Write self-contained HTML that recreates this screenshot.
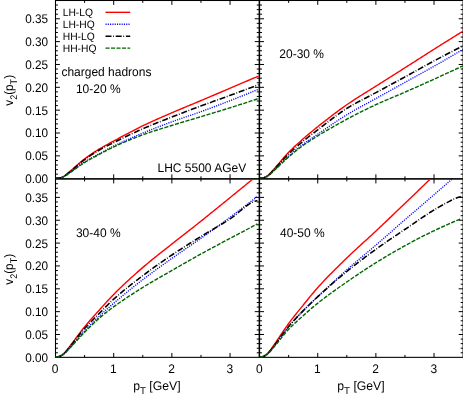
<!DOCTYPE html>
<html><head><meta charset="utf-8"><title>v2(pT) LHC 5500 AGeV</title>
<style>html,body{margin:0;padding:0;background:#fff;overflow:hidden}svg{display:block;text-rendering:geometricPrecision;will-change:transform}</style></head>
<body>
<svg width="463" height="397" viewBox="0 0 463 397">
<rect width="463" height="397" fill="#fff"/>
<defs>
<clipPath id="c0"><rect x="55.50" y="0.49" width="203.65" height="178.98"/></clipPath>
<clipPath id="c1"><rect x="259.60" y="0.49" width="203.50" height="178.98"/></clipPath>
<clipPath id="c2"><rect x="55.50" y="179.05" width="203.65" height="179.05"/></clipPath>
<clipPath id="c3"><rect x="259.60" y="179.05" width="203.50" height="179.05"/></clipPath>
</defs>
<g stroke="#000" fill="none" stroke-width="1">
<rect x="55.50" y="0.49" width="203.65" height="178.23" stroke-width="1.08"/>
<path d="M84.59 178.72v-2.4M84.59 0.49v2.4M113.69 178.72v-4.4M113.69 0.49v4.4M142.78 178.72v-2.4M142.78 0.49v2.4M171.87 178.72v-4.4M171.87 0.49v4.4M200.96 178.72v-2.4M200.96 0.49v2.4M230.06 178.72v-4.4M230.06 0.49v4.4M55.50 174.15h2.4M259.15 174.15h-2.4M55.50 169.58h2.4M259.15 169.58h-2.4M55.50 165.01h2.4M259.15 165.01h-2.4M55.50 160.44h2.4M259.15 160.44h-2.4M55.50 155.87h4.4M259.15 155.87h-4.4M55.50 151.30h2.4M259.15 151.30h-2.4M55.50 146.73h2.4M259.15 146.73h-2.4M55.50 142.16h2.4M259.15 142.16h-2.4M55.50 137.59h2.4M259.15 137.59h-2.4M55.50 133.02h4.4M259.15 133.02h-4.4M55.50 128.45h2.4M259.15 128.45h-2.4M55.50 123.88h2.4M259.15 123.88h-2.4M55.50 119.31h2.4M259.15 119.31h-2.4M55.50 114.74h2.4M259.15 114.74h-2.4M55.50 110.17h4.4M259.15 110.17h-4.4M55.50 105.60h2.4M259.15 105.60h-2.4M55.50 101.03h2.4M259.15 101.03h-2.4M55.50 96.46h2.4M259.15 96.46h-2.4M55.50 91.89h2.4M259.15 91.89h-2.4M55.50 87.32h4.4M259.15 87.32h-4.4M55.50 82.75h2.4M259.15 82.75h-2.4M55.50 78.18h2.4M259.15 78.18h-2.4M55.50 73.61h2.4M259.15 73.61h-2.4M55.50 69.04h2.4M259.15 69.04h-2.4M55.50 64.47h4.4M259.15 64.47h-4.4M55.50 59.90h2.4M259.15 59.90h-2.4M55.50 55.33h2.4M259.15 55.33h-2.4M55.50 50.76h2.4M259.15 50.76h-2.4M55.50 46.19h2.4M259.15 46.19h-2.4M55.50 41.62h4.4M259.15 41.62h-4.4M55.50 37.05h2.4M259.15 37.05h-2.4M55.50 32.48h2.4M259.15 32.48h-2.4M55.50 27.91h2.4M259.15 27.91h-2.4M55.50 23.34h2.4M259.15 23.34h-2.4M55.50 18.77h4.4M259.15 18.77h-4.4M55.50 14.20h2.4M259.15 14.20h-2.4M55.50 9.63h2.4M259.15 9.63h-2.4M55.50 5.06h2.4M259.15 5.06h-2.4"/>
</g>
<g clip-path="url(#c0)" fill="none" stroke-width="1.4" stroke-linejoin="round">
<path d="M55.50 177.99 L56.95 177.99 L58.40 177.99 L59.85 177.82 L61.30 177.44 L62.75 176.84 L64.20 176.00 L65.65 175.01 L67.10 173.85 L68.55 172.60 L70.00 171.36 L71.46 170.15 L72.91 168.91 L74.36 167.64 L75.81 166.36 L77.26 165.07 L78.71 163.80 L80.16 162.54 L81.61 161.32 L83.06 160.14 L84.51 159.01 L85.96 157.93 L87.41 156.88 L88.86 155.84 L90.31 154.83 L91.76 153.85 L93.21 152.88 L94.66 151.93 L96.11 151.01 L97.56 150.09 L99.01 149.20 L100.47 148.33 L101.92 147.48 L103.37 146.65 L104.82 145.83 L106.27 145.03 L107.72 144.25 L109.17 143.46 L110.62 142.68 L112.07 141.91 L113.52 141.13 L114.97 140.34 L116.42 139.56 L117.87 138.77 L119.32 137.99 L120.77 137.20 L122.22 136.42 L123.67 135.64 L125.12 134.87 L126.57 134.09 L128.02 133.32 L129.47 132.56 L130.93 131.80 L132.38 131.04 L133.83 130.29 L135.28 129.55 L136.73 128.81 L138.18 128.08 L139.63 127.36 L141.08 126.64 L142.53 125.94 L143.98 125.24 L145.43 124.55 L146.88 123.87 L148.33 123.19 L149.78 122.52 L151.23 121.86 L152.68 121.20 L154.13 120.55 L155.58 119.90 L157.03 119.25 L158.48 118.61 L159.94 117.98 L161.39 117.34 L162.84 116.71 L164.29 116.08 L165.74 115.45 L167.19 114.82 L168.64 114.19 L170.09 113.56 L171.54 112.94 L172.99 112.31 L174.44 111.69 L175.89 111.07 L177.34 110.45 L178.79 109.84 L180.24 109.23 L181.69 108.62 L183.14 108.02 L184.59 107.41 L186.04 106.81 L187.49 106.21 L188.94 105.61 L190.40 105.00 L191.85 104.40 L193.30 103.80 L194.75 103.20 L196.20 102.59 L197.65 101.99 L199.10 101.38 L200.55 100.77 L202.00 100.15 L203.45 99.54 L204.90 98.93 L206.35 98.31 L207.80 97.69 L209.25 97.08 L210.70 96.46 L212.15 95.84 L213.60 95.23 L215.05 94.61 L216.50 93.99 L217.95 93.37 L219.41 92.75 L220.86 92.13 L222.31 91.51 L223.76 90.90 L225.21 90.28 L226.66 89.66 L228.11 89.04 L229.56 88.42 L231.01 87.80 L232.46 87.18 L233.91 86.56 L235.36 85.94 L236.81 85.33 L238.26 84.71 L239.71 84.09 L241.16 83.47 L242.61 82.85 L244.06 82.23 L245.51 81.61 L246.96 80.99 L248.41 80.37 L249.87 79.75 L251.32 79.13 L252.77 78.51 L254.22 77.89 L255.67 77.27 L257.12 76.65 L258.57 76.03" stroke="#ff0000"/>
<path d="M55.50 177.99 L56.95 177.99 L58.40 177.99 L59.85 177.88 L61.30 177.63 L62.75 177.13 L64.20 176.39 L65.65 175.55 L67.10 174.56 L68.55 173.50 L70.00 172.46 L71.46 171.43 L72.91 170.37 L74.36 169.29 L75.81 168.19 L77.26 167.10 L78.71 166.01 L80.16 164.95 L81.61 163.91 L83.06 162.92 L84.51 161.97 L85.96 161.08 L87.41 160.22 L88.86 159.38 L90.31 158.57 L91.76 157.78 L93.21 157.00 L94.66 156.23 L96.11 155.46 L97.56 154.68 L99.01 153.90 L100.47 153.11 L101.92 152.31 L103.37 151.51 L104.82 150.72 L106.27 149.93 L107.72 149.14 L109.17 148.37 L110.62 147.61 L112.07 146.87 L113.52 146.14 L114.97 145.44 L116.42 144.74 L117.87 144.05 L119.32 143.36 L120.77 142.69 L122.22 142.02 L123.67 141.36 L125.12 140.71 L126.57 140.06 L128.02 139.42 L129.47 138.78 L130.93 138.15 L132.38 137.52 L133.83 136.90 L135.28 136.28 L136.73 135.66 L138.18 135.05 L139.63 134.44 L141.08 133.84 L142.53 133.23 L143.98 132.63 L145.43 132.04 L146.88 131.44 L148.33 130.85 L149.78 130.27 L151.23 129.69 L152.68 129.11 L154.13 128.54 L155.58 127.97 L157.03 127.40 L158.48 126.84 L159.94 126.28 L161.39 125.73 L162.84 125.17 L164.29 124.62 L165.74 124.08 L167.19 123.53 L168.64 122.99 L170.09 122.45 L171.54 121.92 L172.99 121.39 L174.44 120.86 L175.89 120.34 L177.34 119.83 L178.79 119.32 L180.24 118.82 L181.69 118.32 L183.14 117.82 L184.59 117.32 L186.04 116.83 L187.49 116.34 L188.94 115.84 L190.40 115.35 L191.85 114.85 L193.30 114.35 L194.75 113.85 L196.20 113.35 L197.65 112.84 L199.10 112.32 L200.55 111.80 L202.00 111.28 L203.45 110.75 L204.90 110.22 L206.35 109.68 L207.80 109.15 L209.25 108.61 L210.70 108.07 L212.15 107.53 L213.60 106.98 L215.05 106.43 L216.50 105.89 L217.95 105.34 L219.41 104.78 L220.86 104.23 L222.31 103.67 L223.76 103.12 L225.21 102.56 L226.66 102.00 L228.11 101.44 L229.56 100.88 L231.01 100.31 L232.46 99.75 L233.91 99.18 L235.36 98.61 L236.81 98.04 L238.26 97.47 L239.71 96.89 L241.16 96.32 L242.61 95.74 L244.06 95.16 L245.51 94.58 L246.96 93.99 L248.41 93.41 L249.87 92.82 L251.32 92.24 L252.77 91.65 L254.22 91.05 L255.67 90.46 L257.12 89.87 L258.57 89.27" stroke="#0000ff" stroke-dasharray="1.1 1.2"/>
<path d="M55.50 177.99 L56.95 177.99 L58.40 177.99 L59.85 177.83 L61.30 177.49 L62.75 176.91 L64.20 176.09 L65.65 175.14 L67.10 174.01 L68.55 172.81 L70.00 171.62 L71.46 170.45 L72.91 169.25 L74.36 168.02 L75.81 166.78 L77.26 165.54 L78.71 164.31 L80.16 163.10 L81.61 161.92 L83.06 160.78 L84.51 159.70 L85.96 158.65 L87.41 157.63 L88.86 156.64 L90.31 155.66 L91.76 154.71 L93.21 153.77 L94.66 152.86 L96.11 151.97 L97.56 151.10 L99.01 150.25 L100.47 149.42 L101.92 148.61 L103.37 147.83 L104.82 147.06 L106.27 146.31 L107.72 145.57 L109.17 144.84 L110.62 144.12 L112.07 143.40 L113.52 142.67 L114.97 141.95 L116.42 141.23 L117.87 140.51 L119.32 139.79 L120.77 139.08 L122.22 138.37 L123.67 137.66 L125.12 136.96 L126.57 136.26 L128.02 135.56 L129.47 134.87 L130.93 134.18 L132.38 133.50 L133.83 132.83 L135.28 132.16 L136.73 131.49 L138.18 130.83 L139.63 130.18 L141.08 129.54 L142.53 128.90 L143.98 128.27 L145.43 127.64 L146.88 127.02 L148.33 126.41 L149.78 125.80 L151.23 125.20 L152.68 124.61 L154.13 124.02 L155.58 123.43 L157.03 122.85 L158.48 122.27 L159.94 121.69 L161.39 121.11 L162.84 120.54 L164.29 119.97 L165.74 119.40 L167.19 118.83 L168.64 118.26 L170.09 117.70 L171.54 117.13 L172.99 116.56 L174.44 115.99 L175.89 115.43 L177.34 114.87 L178.79 114.31 L180.24 113.75 L181.69 113.19 L183.14 112.64 L184.59 112.08 L186.04 111.53 L187.49 110.98 L188.94 110.43 L190.40 109.88 L191.85 109.34 L193.30 108.79 L194.75 108.25 L196.20 107.71 L197.65 107.17 L199.10 106.63 L200.55 106.09 L202.00 105.56 L203.45 105.02 L204.90 104.49 L206.35 103.97 L207.80 103.44 L209.25 102.92 L210.70 102.40 L212.15 101.88 L213.60 101.36 L215.05 100.84 L216.50 100.32 L217.95 99.80 L219.41 99.29 L220.86 98.77 L222.31 98.25 L223.76 97.72 L225.21 97.20 L226.66 96.67 L228.11 96.14 L229.56 95.61 L231.01 95.08 L232.46 94.54 L233.91 94.00 L235.36 93.46 L236.81 92.92 L238.26 92.38 L239.71 91.84 L241.16 91.30 L242.61 90.75 L244.06 90.20 L245.51 89.66 L246.96 89.11 L248.41 88.56 L249.87 88.01 L251.32 87.46 L252.77 86.91 L254.22 86.35 L255.67 85.80 L257.12 85.24 L258.57 84.68" stroke="#000000" stroke-dasharray="6 1.6 0.8 1.8" stroke-width="1.58"/>
<path d="M55.50 177.99 L56.95 177.99 L58.40 177.99 L59.85 177.89 L61.30 177.67 L62.75 177.19 L64.20 176.47 L65.65 175.66 L67.10 174.70 L68.55 173.69 L70.00 172.68 L71.46 171.69 L72.91 170.67 L74.36 169.63 L75.81 168.58 L77.26 167.53 L78.71 166.49 L80.16 165.46 L81.61 164.46 L83.06 163.49 L84.51 162.57 L85.96 161.68 L87.41 160.82 L88.86 159.99 L90.31 159.17 L91.76 158.38 L93.21 157.59 L94.66 156.81 L96.11 156.04 L97.56 155.27 L99.01 154.49 L100.47 153.72 L101.92 152.94 L103.37 152.16 L104.82 151.39 L106.27 150.63 L107.72 149.88 L109.17 149.13 L110.62 148.41 L112.07 147.70 L113.52 147.01 L114.97 146.34 L116.42 145.67 L117.87 145.01 L119.32 144.36 L120.77 143.71 L122.22 143.07 L123.67 142.44 L125.12 141.82 L126.57 141.20 L128.02 140.59 L129.47 139.99 L130.93 139.40 L132.38 138.81 L133.83 138.23 L135.28 137.66 L136.73 137.09 L138.18 136.54 L139.63 135.99 L141.08 135.44 L142.53 134.91 L143.98 134.39 L145.43 133.87 L146.88 133.36 L148.33 132.87 L149.78 132.38 L151.23 131.89 L152.68 131.41 L154.13 130.94 L155.58 130.48 L157.03 130.01 L158.48 129.56 L159.94 129.10 L161.39 128.65 L162.84 128.20 L164.29 127.75 L165.74 127.30 L167.19 126.86 L168.64 126.41 L170.09 125.96 L171.54 125.51 L172.99 125.06 L174.44 124.61 L175.89 124.17 L177.34 123.73 L178.79 123.29 L180.24 122.85 L181.69 122.42 L183.14 121.99 L184.59 121.55 L186.04 121.12 L187.49 120.69 L188.94 120.26 L190.40 119.83 L191.85 119.40 L193.30 118.97 L194.75 118.54 L196.20 118.11 L197.65 117.68 L199.10 117.24 L200.55 116.80 L202.00 116.36 L203.45 115.92 L204.90 115.49 L206.35 115.05 L207.80 114.61 L209.25 114.17 L210.70 113.73 L212.15 113.29 L213.60 112.85 L215.05 112.40 L216.50 111.96 L217.95 111.52 L219.41 111.07 L220.86 110.63 L222.31 110.18 L223.76 109.73 L225.21 109.28 L226.66 108.83 L228.11 108.38 L229.56 107.92 L231.01 107.47 L232.46 107.01 L233.91 106.55 L235.36 106.09 L236.81 105.63 L238.26 105.16 L239.71 104.70 L241.16 104.23 L242.61 103.77 L244.06 103.30 L245.51 102.83 L246.96 102.36 L248.41 101.88 L249.87 101.41 L251.32 100.94 L252.77 100.46 L254.22 99.98 L255.67 99.51 L257.12 99.03 L258.57 98.55" stroke="#006400" stroke-dasharray="4.1 1.4"/>
</g>
<g stroke="#000" fill="none" stroke-width="1">
<rect x="259.60" y="0.49" width="203.50" height="178.23" stroke-width="1.08"/>
<path d="M288.67 178.72v-2.4M288.67 0.49v2.4M317.74 178.72v-4.4M317.74 0.49v4.4M346.81 178.72v-2.4M346.81 0.49v2.4M375.89 178.72v-4.4M375.89 0.49v4.4M404.96 178.72v-2.4M404.96 0.49v2.4M434.03 178.72v-4.4M434.03 0.49v4.4M259.60 174.15h2.4M463.10 174.15h-2.4M259.60 169.58h2.4M463.10 169.58h-2.4M259.60 165.01h2.4M463.10 165.01h-2.4M259.60 160.44h2.4M463.10 160.44h-2.4M259.60 155.87h4.4M463.10 155.87h-4.4M259.60 151.30h2.4M463.10 151.30h-2.4M259.60 146.73h2.4M463.10 146.73h-2.4M259.60 142.16h2.4M463.10 142.16h-2.4M259.60 137.59h2.4M463.10 137.59h-2.4M259.60 133.02h4.4M463.10 133.02h-4.4M259.60 128.45h2.4M463.10 128.45h-2.4M259.60 123.88h2.4M463.10 123.88h-2.4M259.60 119.31h2.4M463.10 119.31h-2.4M259.60 114.74h2.4M463.10 114.74h-2.4M259.60 110.17h4.4M463.10 110.17h-4.4M259.60 105.60h2.4M463.10 105.60h-2.4M259.60 101.03h2.4M463.10 101.03h-2.4M259.60 96.46h2.4M463.10 96.46h-2.4M259.60 91.89h2.4M463.10 91.89h-2.4M259.60 87.32h4.4M463.10 87.32h-4.4M259.60 82.75h2.4M463.10 82.75h-2.4M259.60 78.18h2.4M463.10 78.18h-2.4M259.60 73.61h2.4M463.10 73.61h-2.4M259.60 69.04h2.4M463.10 69.04h-2.4M259.60 64.47h4.4M463.10 64.47h-4.4M259.60 59.90h2.4M463.10 59.90h-2.4M259.60 55.33h2.4M463.10 55.33h-2.4M259.60 50.76h2.4M463.10 50.76h-2.4M259.60 46.19h2.4M463.10 46.19h-2.4M259.60 41.62h4.4M463.10 41.62h-4.4M259.60 37.05h2.4M463.10 37.05h-2.4M259.60 32.48h2.4M463.10 32.48h-2.4M259.60 27.91h2.4M463.10 27.91h-2.4M259.60 23.34h2.4M463.10 23.34h-2.4M259.60 18.77h4.4M463.10 18.77h-4.4M259.60 14.20h2.4M463.10 14.20h-2.4M259.60 9.63h2.4M463.10 9.63h-2.4M259.60 5.06h2.4M463.10 5.06h-2.4"/>
</g>
<g clip-path="url(#c1)" fill="none" stroke-width="1.4" stroke-linejoin="round">
<path d="M259.60 177.99 L261.05 177.99 L262.51 177.99 L263.96 177.66 L265.41 177.00 L266.87 176.17 L268.32 175.09 L269.78 173.77 L271.23 172.20 L272.68 170.52 L274.14 168.86 L275.59 167.24 L277.04 165.56 L278.50 163.86 L279.95 162.15 L281.40 160.43 L282.86 158.72 L284.31 157.03 L285.76 155.39 L287.22 153.80 L288.67 152.28 L290.12 150.81 L291.58 149.39 L293.03 148.00 L294.49 146.63 L295.94 145.30 L297.39 143.98 L298.85 142.68 L300.30 141.40 L301.75 140.12 L303.21 138.84 L304.66 137.58 L306.11 136.32 L307.57 135.08 L309.02 133.86 L310.48 132.64 L311.93 131.44 L313.38 130.25 L314.84 129.07 L316.29 127.89 L317.74 126.73 L319.20 125.57 L320.65 124.42 L322.10 123.27 L323.56 122.12 L325.01 120.98 L326.46 119.85 L327.92 118.71 L329.37 117.59 L330.83 116.47 L332.28 115.36 L333.73 114.26 L335.19 113.16 L336.64 112.07 L338.09 111.00 L339.55 109.93 L341.00 108.87 L342.45 107.82 L343.91 106.79 L345.36 105.76 L346.81 104.75 L348.27 103.75 L349.72 102.77 L351.18 101.80 L352.63 100.84 L354.08 99.89 L355.54 98.95 L356.99 98.02 L358.44 97.10 L359.90 96.18 L361.35 95.27 L362.80 94.36 L364.26 93.46 L365.71 92.55 L367.16 91.65 L368.62 90.75 L370.07 89.85 L371.53 88.94 L372.98 88.03 L374.43 87.12 L375.89 86.20 L377.34 85.27 L378.79 84.35 L380.25 83.43 L381.70 82.51 L383.15 81.58 L384.61 80.66 L386.06 79.74 L387.51 78.82 L388.97 77.90 L390.42 76.98 L391.88 76.06 L393.33 75.15 L394.78 74.23 L396.24 73.31 L397.69 72.39 L399.14 71.47 L400.60 70.54 L402.05 69.62 L403.50 68.70 L404.96 67.78 L406.41 66.85 L407.86 65.93 L409.32 65.00 L410.77 64.08 L412.23 63.15 L413.68 62.22 L415.13 61.29 L416.59 60.37 L418.04 59.44 L419.49 58.51 L420.95 57.58 L422.40 56.65 L423.85 55.73 L425.31 54.80 L426.76 53.88 L428.21 52.95 L429.67 52.03 L431.12 51.11 L432.58 50.19 L434.03 49.27 L435.48 48.35 L436.94 47.44 L438.39 46.52 L439.84 45.61 L441.30 44.69 L442.75 43.78 L444.20 42.87 L445.66 41.96 L447.11 41.05 L448.56 40.14 L450.02 39.23 L451.47 38.32 L452.93 37.41 L454.38 36.50 L455.83 35.60 L457.29 34.69 L458.74 33.79 L460.19 32.89 L461.65 31.98 L463.10 31.08" stroke="#ff0000"/>
<path d="M259.60 177.99 L261.05 177.99 L262.51 177.99 L263.96 177.75 L265.41 177.26 L266.87 176.56 L268.32 175.62 L269.78 174.49 L271.23 173.15 L272.68 171.72 L274.14 170.32 L275.59 168.94 L277.04 167.52 L278.50 166.09 L279.95 164.64 L281.40 163.19 L282.86 161.74 L284.31 160.31 L285.76 158.91 L287.22 157.54 L288.67 156.21 L290.12 154.91 L291.58 153.63 L293.03 152.36 L294.49 151.11 L295.94 149.88 L297.39 148.68 L298.85 147.49 L300.30 146.33 L301.75 145.20 L303.21 144.10 L304.66 143.03 L306.11 141.99 L307.57 140.98 L309.02 140.00 L310.48 139.03 L311.93 138.07 L313.38 137.12 L314.84 136.16 L316.29 135.20 L317.74 134.23 L319.20 133.24 L320.65 132.25 L322.10 131.26 L323.56 130.26 L325.01 129.25 L326.46 128.25 L327.92 127.25 L329.37 126.24 L330.83 125.25 L332.28 124.25 L333.73 123.26 L335.19 122.27 L336.64 121.29 L338.09 120.33 L339.55 119.37 L341.00 118.42 L342.45 117.48 L343.91 116.56 L345.36 115.65 L346.81 114.76 L348.27 113.88 L349.72 113.02 L351.18 112.17 L352.63 111.33 L354.08 110.50 L355.54 109.69 L356.99 108.88 L358.44 108.07 L359.90 107.27 L361.35 106.48 L362.80 105.69 L364.26 104.91 L365.71 104.12 L367.16 103.34 L368.62 102.55 L370.07 101.77 L371.53 100.98 L372.98 100.18 L374.43 99.39 L375.89 98.58 L377.34 97.77 L378.79 96.96 L380.25 96.15 L381.70 95.34 L383.15 94.53 L384.61 93.73 L386.06 92.92 L387.51 92.11 L388.97 91.30 L390.42 90.49 L391.88 89.68 L393.33 88.87 L394.78 88.06 L396.24 87.25 L397.69 86.44 L399.14 85.64 L400.60 84.83 L402.05 84.02 L403.50 83.21 L404.96 82.40 L406.41 81.60 L407.86 80.79 L409.32 79.99 L410.77 79.19 L412.23 78.39 L413.68 77.58 L415.13 76.79 L416.59 75.99 L418.04 75.18 L419.49 74.38 L420.95 73.58 L422.40 72.78 L423.85 71.97 L425.31 71.17 L426.76 70.36 L428.21 69.55 L429.67 68.73 L431.12 67.92 L432.58 67.10 L434.03 66.27 L435.48 65.44 L436.94 64.61 L438.39 63.78 L439.84 62.95 L441.30 62.11 L442.75 61.27 L444.20 60.43 L445.66 59.59 L447.11 58.74 L448.56 57.90 L450.02 57.05 L451.47 56.20 L452.93 55.34 L454.38 54.49 L455.83 53.63 L457.29 52.77 L458.74 51.91 L460.19 51.05 L461.65 50.18 L463.10 49.32" stroke="#0000ff" stroke-dasharray="1.1 1.2"/>
<path d="M259.60 177.99 L261.05 177.99 L262.51 177.99 L263.96 177.70 L265.41 177.11 L266.87 176.33 L268.32 175.31 L269.78 174.07 L271.23 172.60 L272.68 171.02 L274.14 169.47 L275.59 167.95 L277.04 166.38 L278.50 164.79 L279.95 163.19 L281.40 161.58 L282.86 159.98 L284.31 158.40 L285.76 156.86 L287.22 155.36 L288.67 153.92 L290.12 152.54 L291.58 151.18 L293.03 149.85 L294.49 148.55 L295.94 147.27 L297.39 146.01 L298.85 144.77 L300.30 143.54 L301.75 142.33 L303.21 141.13 L304.66 139.94 L306.11 138.77 L307.57 137.62 L309.02 136.49 L310.48 135.36 L311.93 134.25 L313.38 133.14 L314.84 132.04 L316.29 130.94 L317.74 129.84 L319.20 128.73 L320.65 127.62 L322.10 126.49 L323.56 125.37 L325.01 124.24 L326.46 123.11 L327.92 121.99 L329.37 120.86 L330.83 119.75 L332.28 118.64 L333.73 117.54 L335.19 116.45 L336.64 115.38 L338.09 114.32 L339.55 113.28 L341.00 112.25 L342.45 111.26 L343.91 110.28 L345.36 109.33 L346.81 108.41 L348.27 107.51 L349.72 106.63 L351.18 105.78 L352.63 104.94 L354.08 104.13 L355.54 103.32 L356.99 102.53 L358.44 101.75 L359.90 100.98 L361.35 100.22 L362.80 99.46 L364.26 98.71 L365.71 97.96 L367.16 97.21 L368.62 96.47 L370.07 95.71 L371.53 94.96 L372.98 94.19 L374.43 93.42 L375.89 92.64 L377.34 91.85 L378.79 91.07 L380.25 90.28 L381.70 89.50 L383.15 88.71 L384.61 87.93 L386.06 87.14 L387.51 86.36 L388.97 85.58 L390.42 84.79 L391.88 84.01 L393.33 83.22 L394.78 82.44 L396.24 81.65 L397.69 80.87 L399.14 80.08 L400.60 79.29 L402.05 78.50 L403.50 77.71 L404.96 76.92 L406.41 76.12 L407.86 75.33 L409.32 74.53 L410.77 73.72 L412.23 72.92 L413.68 72.11 L415.13 71.30 L416.59 70.50 L418.04 69.69 L419.49 68.88 L420.95 68.07 L422.40 67.27 L423.85 66.46 L425.31 65.66 L426.76 64.86 L428.21 64.07 L429.67 63.27 L431.12 62.49 L432.58 61.70 L434.03 60.92 L435.48 60.15 L436.94 59.38 L438.39 58.60 L439.84 57.84 L441.30 57.07 L442.75 56.31 L444.20 55.54 L445.66 54.78 L447.11 54.03 L448.56 53.27 L450.02 52.52 L451.47 51.77 L452.93 51.02 L454.38 50.27 L455.83 49.53 L457.29 48.79 L458.74 48.05 L460.19 47.31 L461.65 46.58 L463.10 45.84" stroke="#000000" stroke-dasharray="6 1.6 0.8 1.8" stroke-width="1.58"/>
<path d="M259.60 177.99 L261.05 177.99 L262.51 177.99 L263.96 177.77 L265.41 177.30 L266.87 176.63 L268.32 175.71 L269.78 174.61 L271.23 173.32 L272.68 171.93 L274.14 170.57 L275.59 169.23 L277.04 167.86 L278.50 166.47 L279.95 165.06 L281.40 163.65 L282.86 162.25 L284.31 160.86 L285.76 159.50 L287.22 158.17 L288.67 156.89 L290.12 155.65 L291.58 154.42 L293.03 153.21 L294.49 152.02 L295.94 150.85 L297.39 149.70 L298.85 148.57 L300.30 147.47 L301.75 146.39 L303.21 145.33 L304.66 144.30 L306.11 143.30 L307.57 142.32 L309.02 141.36 L310.48 140.42 L311.93 139.49 L313.38 138.57 L314.84 137.66 L316.29 136.77 L317.74 135.87 L319.20 134.98 L320.65 134.10 L322.10 133.23 L323.56 132.36 L325.01 131.49 L326.46 130.64 L327.92 129.79 L329.37 128.94 L330.83 128.10 L332.28 127.27 L333.73 126.44 L335.19 125.62 L336.64 124.80 L338.09 123.99 L339.55 123.19 L341.00 122.39 L342.45 121.59 L343.91 120.80 L345.36 120.02 L346.81 119.24 L348.27 118.46 L349.72 117.69 L351.18 116.92 L352.63 116.16 L354.08 115.41 L355.54 114.65 L356.99 113.90 L358.44 113.16 L359.90 112.42 L361.35 111.69 L362.80 110.96 L364.26 110.24 L365.71 109.52 L367.16 108.81 L368.62 108.10 L370.07 107.40 L371.53 106.71 L372.98 106.02 L374.43 105.34 L375.89 104.66 L377.34 103.99 L378.79 103.33 L380.25 102.68 L381.70 102.04 L383.15 101.40 L384.61 100.78 L386.06 100.15 L387.51 99.53 L388.97 98.92 L390.42 98.30 L391.88 97.69 L393.33 97.08 L394.78 96.47 L396.24 95.86 L397.69 95.25 L399.14 94.64 L400.60 94.02 L402.05 93.40 L403.50 92.77 L404.96 92.14 L406.41 91.50 L407.86 90.86 L409.32 90.22 L410.77 89.58 L412.23 88.94 L413.68 88.30 L415.13 87.66 L416.59 87.02 L418.04 86.37 L419.49 85.73 L420.95 85.08 L422.40 84.43 L423.85 83.78 L425.31 83.13 L426.76 82.48 L428.21 81.83 L429.67 81.17 L431.12 80.52 L432.58 79.86 L434.03 79.20 L435.48 78.54 L436.94 77.88 L438.39 77.22 L439.84 76.56 L441.30 75.89 L442.75 75.23 L444.20 74.56 L445.66 73.89 L447.11 73.22 L448.56 72.55 L450.02 71.88 L451.47 71.20 L452.93 70.53 L454.38 69.85 L455.83 69.17 L457.29 68.50 L458.74 67.82 L460.19 67.13 L461.65 66.45 L463.10 65.77" stroke="#006400" stroke-dasharray="4.1 1.4"/>
</g>
<g stroke="#000" fill="none" stroke-width="1">
<rect x="55.50" y="179.05" width="203.65" height="178.30" stroke-width="1.08"/>
<path d="M84.59 357.35v-2.4M84.59 179.05v2.4M113.69 357.35v-4.4M113.69 179.05v4.4M142.78 357.35v-2.4M142.78 179.05v2.4M171.87 357.35v-4.4M171.87 179.05v4.4M200.96 357.35v-2.4M200.96 179.05v2.4M230.06 357.35v-4.4M230.06 179.05v4.4M55.50 352.78h2.4M259.15 352.78h-2.4M55.50 348.21h2.4M259.15 348.21h-2.4M55.50 343.64h2.4M259.15 343.64h-2.4M55.50 339.07h2.4M259.15 339.07h-2.4M55.50 334.50h4.4M259.15 334.50h-4.4M55.50 329.93h2.4M259.15 329.93h-2.4M55.50 325.36h2.4M259.15 325.36h-2.4M55.50 320.79h2.4M259.15 320.79h-2.4M55.50 316.22h2.4M259.15 316.22h-2.4M55.50 311.65h4.4M259.15 311.65h-4.4M55.50 307.08h2.4M259.15 307.08h-2.4M55.50 302.51h2.4M259.15 302.51h-2.4M55.50 297.94h2.4M259.15 297.94h-2.4M55.50 293.37h2.4M259.15 293.37h-2.4M55.50 288.80h4.4M259.15 288.80h-4.4M55.50 284.23h2.4M259.15 284.23h-2.4M55.50 279.66h2.4M259.15 279.66h-2.4M55.50 275.09h2.4M259.15 275.09h-2.4M55.50 270.52h2.4M259.15 270.52h-2.4M55.50 265.95h4.4M259.15 265.95h-4.4M55.50 261.38h2.4M259.15 261.38h-2.4M55.50 256.81h2.4M259.15 256.81h-2.4M55.50 252.24h2.4M259.15 252.24h-2.4M55.50 247.67h2.4M259.15 247.67h-2.4M55.50 243.10h4.4M259.15 243.10h-4.4M55.50 238.53h2.4M259.15 238.53h-2.4M55.50 233.96h2.4M259.15 233.96h-2.4M55.50 229.39h2.4M259.15 229.39h-2.4M55.50 224.82h2.4M259.15 224.82h-2.4M55.50 220.25h4.4M259.15 220.25h-4.4M55.50 215.68h2.4M259.15 215.68h-2.4M55.50 211.11h2.4M259.15 211.11h-2.4M55.50 206.54h2.4M259.15 206.54h-2.4M55.50 201.97h2.4M259.15 201.97h-2.4M55.50 197.40h4.4M259.15 197.40h-4.4M55.50 192.83h2.4M259.15 192.83h-2.4M55.50 188.26h2.4M259.15 188.26h-2.4M55.50 183.69h2.4M259.15 183.69h-2.4"/>
</g>
<g clip-path="url(#c2)" fill="none" stroke-width="1.4" stroke-linejoin="round">
<path d="M55.50 356.71 L56.94 356.71 L58.38 356.71 L59.83 356.27 L61.27 355.40 L62.71 354.40 L64.15 353.15 L65.60 351.64 L67.04 349.86 L68.48 347.95 L69.92 346.05 L71.36 344.20 L72.81 342.31 L74.25 340.39 L75.69 338.45 L77.13 336.50 L78.57 334.55 L80.02 332.63 L81.46 330.73 L82.90 328.88 L84.34 327.08 L85.79 325.34 L87.23 323.63 L88.67 321.96 L90.11 320.31 L91.55 318.68 L93.00 317.07 L94.44 315.48 L95.88 313.88 L97.32 312.29 L98.77 310.69 L100.21 309.09 L101.65 307.48 L103.09 305.86 L104.53 304.25 L105.98 302.65 L107.42 301.06 L108.86 299.49 L110.30 297.94 L111.74 296.42 L113.19 294.93 L114.63 293.47 L116.07 292.03 L117.51 290.60 L118.96 289.19 L120.40 287.79 L121.84 286.40 L123.28 285.03 L124.72 283.66 L126.17 282.31 L127.61 280.97 L129.05 279.65 L130.49 278.33 L131.94 277.02 L133.38 275.72 L134.82 274.43 L136.26 273.15 L137.70 271.88 L139.15 270.61 L140.59 269.35 L142.03 268.10 L143.47 266.86 L144.91 265.63 L146.36 264.42 L147.80 263.21 L149.24 262.02 L150.68 260.84 L152.13 259.66 L153.57 258.50 L155.01 257.34 L156.45 256.19 L157.89 255.04 L159.34 253.90 L160.78 252.76 L162.22 251.63 L163.66 250.49 L165.11 249.36 L166.55 248.22 L167.99 247.09 L169.43 245.95 L170.87 244.81 L172.32 243.66 L173.76 242.52 L175.20 241.38 L176.64 240.24 L178.08 239.11 L179.53 237.98 L180.97 236.85 L182.41 235.72 L183.85 234.59 L185.30 233.47 L186.74 232.34 L188.18 231.22 L189.62 230.09 L191.06 228.97 L192.51 227.84 L193.95 226.71 L195.39 225.57 L196.83 224.44 L198.28 223.30 L199.72 222.16 L201.16 221.01 L202.60 219.86 L204.04 218.70 L205.49 217.55 L206.93 216.39 L208.37 215.23 L209.81 214.06 L211.25 212.90 L212.70 211.73 L214.14 210.57 L215.58 209.40 L217.02 208.23 L218.47 207.06 L219.91 205.88 L221.35 204.71 L222.79 203.54 L224.23 202.36 L225.68 201.19 L227.12 200.02 L228.56 198.85 L230.00 197.67 L231.45 196.50 L232.89 195.33 L234.33 194.15 L235.77 192.98 L237.21 191.80 L238.66 190.63 L240.10 189.45 L241.54 188.28 L242.98 187.10 L244.42 185.92 L245.87 184.74 L247.31 183.56 L248.75 182.38 L250.19 181.20 L251.64 180.02 L253.08 178.84 L254.52 177.66 L255.96 176.48 L257.40 175.30" stroke="#ff0000"/>
<path d="M55.50 356.71 L56.94 356.71 L58.38 356.71 L59.83 356.37 L61.27 355.67 L62.71 354.82 L64.15 353.71 L65.60 352.41 L67.04 350.88 L68.48 349.24 L69.92 347.62 L71.36 346.03 L72.81 344.41 L74.25 342.77 L75.69 341.11 L77.13 339.45 L78.57 337.79 L80.02 336.13 L81.46 334.50 L82.90 332.90 L84.34 331.34 L85.79 329.81 L87.23 328.30 L88.67 326.81 L90.11 325.33 L91.55 323.87 L93.00 322.43 L94.44 321.00 L95.88 319.59 L97.32 318.19 L98.77 316.81 L100.21 315.44 L101.65 314.08 L103.09 312.74 L104.53 311.41 L105.98 310.10 L107.42 308.80 L108.86 307.51 L110.30 306.23 L111.74 304.97 L113.19 303.72 L114.63 302.48 L116.07 301.24 L117.51 300.02 L118.96 298.80 L120.40 297.59 L121.84 296.39 L123.28 295.19 L124.72 294.00 L126.17 292.82 L127.61 291.64 L129.05 290.48 L130.49 289.31 L131.94 288.16 L133.38 287.01 L134.82 285.87 L136.26 284.73 L137.70 283.60 L139.15 282.47 L140.59 281.35 L142.03 280.24 L143.47 279.13 L144.91 278.03 L146.36 276.93 L147.80 275.85 L149.24 274.77 L150.68 273.69 L152.13 272.63 L153.57 271.57 L155.01 270.51 L156.45 269.46 L157.89 268.41 L159.34 267.37 L160.78 266.33 L162.22 265.29 L163.66 264.26 L165.11 263.23 L166.55 262.20 L167.99 261.17 L169.43 260.14 L170.87 259.12 L172.32 258.09 L173.76 257.07 L175.20 256.06 L176.64 255.05 L178.08 254.05 L179.53 253.05 L180.97 252.06 L182.41 251.06 L183.85 250.07 L185.30 249.08 L186.74 248.10 L188.18 247.11 L189.62 246.12 L191.06 245.13 L192.51 244.14 L193.95 243.15 L195.39 242.15 L196.83 241.15 L198.28 240.15 L199.72 239.13 L201.16 238.12 L202.60 237.10 L204.04 236.08 L205.49 235.05 L206.93 234.03 L208.37 233.00 L209.81 231.97 L211.25 230.94 L212.70 229.91 L214.14 228.88 L215.58 227.84 L217.02 226.80 L218.47 225.76 L219.91 224.72 L221.35 223.67 L222.79 222.62 L224.23 221.57 L225.68 220.51 L227.12 219.45 L228.56 218.39 L230.00 217.32 L231.45 216.25 L232.89 215.18 L234.33 214.10 L235.77 213.02 L237.21 211.94 L238.66 210.85 L240.10 209.77 L241.54 208.68 L242.98 207.58 L244.42 206.48 L245.87 205.38 L247.31 204.28 L248.75 203.18 L250.19 202.07 L251.64 200.95 L253.08 199.84 L254.52 198.72 L255.96 197.60 L257.40 196.48" stroke="#0000ff" stroke-dasharray="1.1 1.2"/>
<path d="M55.50 356.71 L56.94 356.71 L58.38 356.71 L59.83 356.31 L61.27 355.51 L62.71 354.58 L64.15 353.38 L65.60 351.96 L67.04 350.28 L68.48 348.49 L69.92 346.70 L71.36 344.96 L72.81 343.17 L74.25 341.35 L75.69 339.51 L77.13 337.67 L78.57 335.83 L80.02 334.02 L81.46 332.24 L82.90 330.51 L84.34 328.84 L85.79 327.24 L87.23 325.68 L88.67 324.16 L90.11 322.66 L91.55 321.20 L93.00 319.75 L94.44 318.31 L95.88 316.87 L97.32 315.44 L98.77 313.99 L100.21 312.53 L101.65 311.06 L103.09 309.58 L104.53 308.11 L105.98 306.64 L107.42 305.18 L108.86 303.75 L110.30 302.34 L111.74 300.96 L113.19 299.63 L114.63 298.33 L116.07 297.05 L117.51 295.79 L118.96 294.55 L120.40 293.32 L121.84 292.11 L123.28 290.91 L124.72 289.73 L126.17 288.56 L127.61 287.40 L129.05 286.25 L130.49 285.11 L131.94 283.98 L133.38 282.86 L134.82 281.74 L136.26 280.64 L137.70 279.53 L139.15 278.44 L140.59 277.34 L142.03 276.25 L143.47 275.16 L144.91 274.08 L146.36 273.00 L147.80 271.94 L149.24 270.87 L150.68 269.82 L152.13 268.77 L153.57 267.73 L155.01 266.70 L156.45 265.67 L157.89 264.65 L159.34 263.63 L160.78 262.62 L162.22 261.62 L163.66 260.62 L165.11 259.63 L166.55 258.64 L167.99 257.65 L169.43 256.67 L170.87 255.70 L172.32 254.73 L173.76 253.77 L175.20 252.81 L176.64 251.86 L178.08 250.92 L179.53 249.98 L180.97 249.05 L182.41 248.12 L183.85 247.20 L185.30 246.28 L186.74 245.36 L188.18 244.45 L189.62 243.54 L191.06 242.64 L192.51 241.74 L193.95 240.84 L195.39 239.94 L196.83 239.04 L198.28 238.14 L199.72 237.25 L201.16 236.35 L202.60 235.46 L204.04 234.59 L205.49 233.72 L206.93 232.85 L208.37 232.00 L209.81 231.14 L211.25 230.29 L212.70 229.45 L214.14 228.60 L215.58 227.75 L217.02 226.90 L218.47 226.05 L219.91 225.19 L221.35 224.32 L222.79 223.45 L224.23 222.57 L225.68 221.67 L227.12 220.77 L228.56 219.85 L230.00 218.91 L231.45 217.93 L232.89 216.88 L234.33 215.77 L235.77 214.62 L237.21 213.43 L238.66 212.22 L240.10 211.00 L241.54 209.79 L242.98 208.60 L244.42 207.44 L245.87 206.33 L247.31 205.28 L248.75 204.30 L250.19 203.41 L251.64 202.61 L253.08 201.93 L254.52 201.37 L255.96 200.94 L257.40 200.60" stroke="#000000" stroke-dasharray="6 1.6 0.8 1.8" stroke-width="1.58"/>
<path d="M55.50 356.71 L56.94 356.71 L58.38 356.71 L59.83 356.39 L61.27 355.75 L62.71 354.93 L64.15 353.86 L65.60 352.61 L67.04 351.15 L68.48 349.59 L69.92 348.04 L71.36 346.52 L72.81 344.97 L74.25 343.40 L75.69 341.81 L77.13 340.22 L78.57 338.63 L80.02 337.05 L81.46 335.49 L82.90 333.96 L84.34 332.47 L85.79 331.01 L87.23 329.55 L88.67 328.11 L90.11 326.68 L91.55 325.28 L93.00 323.89 L94.44 322.52 L95.88 321.18 L97.32 319.88 L98.77 318.60 L100.21 317.36 L101.65 316.14 L103.09 314.95 L104.53 313.78 L105.98 312.64 L107.42 311.51 L108.86 310.40 L110.30 309.31 L111.74 308.23 L113.19 307.17 L114.63 306.12 L116.07 305.08 L117.51 304.06 L118.96 303.04 L120.40 302.03 L121.84 301.04 L123.28 300.05 L124.72 299.07 L126.17 298.10 L127.61 297.14 L129.05 296.19 L130.49 295.24 L131.94 294.30 L133.38 293.37 L134.82 292.44 L136.26 291.52 L137.70 290.61 L139.15 289.70 L140.59 288.80 L142.03 287.89 L143.47 287.00 L144.91 286.11 L146.36 285.23 L147.80 284.36 L149.24 283.50 L150.68 282.65 L152.13 281.80 L153.57 280.96 L155.01 280.12 L156.45 279.28 L157.89 278.45 L159.34 277.63 L160.78 276.80 L162.22 275.98 L163.66 275.16 L165.11 274.34 L166.55 273.52 L167.99 272.70 L169.43 271.87 L170.87 271.05 L172.32 270.22 L173.76 269.39 L175.20 268.56 L176.64 267.73 L178.08 266.91 L179.53 266.08 L180.97 265.25 L182.41 264.43 L183.85 263.60 L185.30 262.78 L186.74 261.96 L188.18 261.14 L189.62 260.32 L191.06 259.51 L192.51 258.69 L193.95 257.88 L195.39 257.07 L196.83 256.27 L198.28 255.47 L199.72 254.67 L201.16 253.87 L202.60 253.08 L204.04 252.28 L205.49 251.50 L206.93 250.71 L208.37 249.93 L209.81 249.15 L211.25 248.37 L212.70 247.59 L214.14 246.82 L215.58 246.05 L217.02 245.28 L218.47 244.51 L219.91 243.74 L221.35 242.97 L222.79 242.20 L224.23 241.44 L225.68 240.67 L227.12 239.91 L228.56 239.14 L230.00 238.38 L231.45 237.61 L232.89 236.85 L234.33 236.08 L235.77 235.32 L237.21 234.56 L238.66 233.80 L240.10 233.04 L241.54 232.28 L242.98 231.52 L244.42 230.76 L245.87 230.01 L247.31 229.25 L248.75 228.50 L250.19 227.74 L251.64 226.99 L253.08 226.24 L254.52 225.49 L255.96 224.74 L257.40 223.99" stroke="#006400" stroke-dasharray="4.1 1.4"/>
</g>
<g stroke="#000" fill="none" stroke-width="1">
<rect x="259.60" y="179.05" width="203.50" height="178.30" stroke-width="1.08"/>
<path d="M288.67 357.35v-2.4M288.67 179.05v2.4M317.74 357.35v-4.4M317.74 179.05v4.4M346.81 357.35v-2.4M346.81 179.05v2.4M375.89 357.35v-4.4M375.89 179.05v4.4M404.96 357.35v-2.4M404.96 179.05v2.4M434.03 357.35v-4.4M434.03 179.05v4.4M259.60 352.78h2.4M463.10 352.78h-2.4M259.60 348.21h2.4M463.10 348.21h-2.4M259.60 343.64h2.4M463.10 343.64h-2.4M259.60 339.07h2.4M463.10 339.07h-2.4M259.60 334.50h4.4M463.10 334.50h-4.4M259.60 329.93h2.4M463.10 329.93h-2.4M259.60 325.36h2.4M463.10 325.36h-2.4M259.60 320.79h2.4M463.10 320.79h-2.4M259.60 316.22h2.4M463.10 316.22h-2.4M259.60 311.65h4.4M463.10 311.65h-4.4M259.60 307.08h2.4M463.10 307.08h-2.4M259.60 302.51h2.4M463.10 302.51h-2.4M259.60 297.94h2.4M463.10 297.94h-2.4M259.60 293.37h2.4M463.10 293.37h-2.4M259.60 288.80h4.4M463.10 288.80h-4.4M259.60 284.23h2.4M463.10 284.23h-2.4M259.60 279.66h2.4M463.10 279.66h-2.4M259.60 275.09h2.4M463.10 275.09h-2.4M259.60 270.52h2.4M463.10 270.52h-2.4M259.60 265.95h4.4M463.10 265.95h-4.4M259.60 261.38h2.4M463.10 261.38h-2.4M259.60 256.81h2.4M463.10 256.81h-2.4M259.60 252.24h2.4M463.10 252.24h-2.4M259.60 247.67h2.4M463.10 247.67h-2.4M259.60 243.10h4.4M463.10 243.10h-4.4M259.60 238.53h2.4M463.10 238.53h-2.4M259.60 233.96h2.4M463.10 233.96h-2.4M259.60 229.39h2.4M463.10 229.39h-2.4M259.60 224.82h2.4M463.10 224.82h-2.4M259.60 220.25h4.4M463.10 220.25h-4.4M259.60 215.68h2.4M463.10 215.68h-2.4M259.60 211.11h2.4M463.10 211.11h-2.4M259.60 206.54h2.4M463.10 206.54h-2.4M259.60 201.97h2.4M463.10 201.97h-2.4M259.60 197.40h4.4M463.10 197.40h-4.4M259.60 192.83h2.4M463.10 192.83h-2.4M259.60 188.26h2.4M463.10 188.26h-2.4M259.60 183.69h2.4M463.10 183.69h-2.4"/>
</g>
<g clip-path="url(#c3)" fill="none" stroke-width="1.4" stroke-linejoin="round">
<path d="M259.60 356.71 L261.04 356.71 L262.48 356.71 L263.92 356.20 L265.36 355.18 L266.81 354.08 L268.25 352.71 L269.69 351.04 L271.13 349.06 L272.57 346.94 L274.01 344.84 L275.45 342.78 L276.89 340.68 L278.33 338.55 L279.78 336.39 L281.22 334.23 L282.66 332.07 L284.10 329.94 L285.54 327.83 L286.98 325.78 L288.42 323.78 L289.86 321.84 L291.30 319.95 L292.75 318.09 L294.19 316.25 L295.63 314.45 L297.07 312.66 L298.51 310.88 L299.95 309.11 L301.39 307.34 L302.83 305.57 L304.27 303.80 L305.72 302.01 L307.16 300.23 L308.60 298.45 L310.04 296.68 L311.48 294.93 L312.92 293.20 L314.36 291.49 L315.80 289.81 L317.24 288.17 L318.69 286.57 L320.13 284.98 L321.57 283.41 L323.01 281.87 L324.45 280.33 L325.89 278.82 L327.33 277.31 L328.77 275.83 L330.21 274.35 L331.66 272.89 L333.10 271.43 L334.54 269.99 L335.98 268.55 L337.42 267.13 L338.86 265.71 L340.30 264.29 L341.74 262.88 L343.18 261.48 L344.63 260.08 L346.07 258.68 L347.51 257.28 L348.95 255.90 L350.39 254.53 L351.83 253.17 L353.27 251.82 L354.71 250.48 L356.15 249.15 L357.60 247.83 L359.04 246.51 L360.48 245.20 L361.92 243.88 L363.36 242.58 L364.80 241.27 L366.24 239.96 L367.68 238.65 L369.12 237.33 L370.57 236.01 L372.01 234.69 L373.45 233.35 L374.89 232.01 L376.33 230.66 L377.77 229.31 L379.21 227.95 L380.65 226.59 L382.09 225.23 L383.54 223.86 L384.98 222.49 L386.42 221.12 L387.86 219.75 L389.30 218.37 L390.74 216.99 L392.18 215.62 L393.62 214.24 L395.06 212.86 L396.51 211.48 L397.95 210.10 L399.39 208.72 L400.83 207.34 L402.27 205.96 L403.71 204.58 L405.15 203.20 L406.59 201.82 L408.03 200.44 L409.48 199.06 L410.92 197.68 L412.36 196.29 L413.80 194.91 L415.24 193.53 L416.68 192.14 L418.12 190.75 L419.56 189.37 L421.00 187.98 L422.45 186.60 L423.89 185.21 L425.33 183.82 L426.77 182.44 L428.21 181.05 L429.65 179.67 L431.09 178.28 L432.53 176.90 L433.97 175.52 L435.42 174.13 L436.86 172.75 L438.30 171.37 L439.74 169.98 L441.18 168.60 L442.62 167.22 L444.06 165.84 L445.50 164.46 L446.94 163.07 L448.39 161.69 L449.83 160.31 L451.27 158.93 L452.71 157.55 L454.15 156.16 L455.59 154.78 L457.03 153.40 L458.47 152.02 L459.91 150.64 L461.36 149.26" stroke="#ff0000"/>
<path d="M259.60 356.71 L261.04 356.71 L262.48 356.71 L263.92 356.27 L265.36 355.38 L266.81 354.38 L268.25 353.11 L269.69 351.59 L271.13 349.79 L272.57 347.87 L274.01 345.95 L275.45 344.08 L276.89 342.16 L278.33 340.21 L279.78 338.23 L281.22 336.25 L282.66 334.28 L284.10 332.33 L285.54 330.43 L286.98 328.58 L288.42 326.80 L289.86 325.09 L291.30 323.43 L292.75 321.80 L294.19 320.21 L295.63 318.64 L297.07 317.10 L298.51 315.58 L299.95 314.08 L301.39 312.60 L302.83 311.12 L304.27 309.65 L305.72 308.21 L307.16 306.79 L308.60 305.39 L310.04 304.00 L311.48 302.63 L312.92 301.26 L314.36 299.90 L315.80 298.54 L317.24 297.18 L318.69 295.81 L320.13 294.45 L321.57 293.09 L323.01 291.73 L324.45 290.37 L325.89 289.02 L327.33 287.66 L328.77 286.32 L330.21 284.97 L331.66 283.63 L333.10 282.29 L334.54 280.96 L335.98 279.63 L337.42 278.31 L338.86 276.99 L340.30 275.68 L341.74 274.37 L343.18 273.07 L344.63 271.78 L346.07 270.50 L347.51 269.22 L348.95 267.96 L350.39 266.70 L351.83 265.45 L353.27 264.22 L354.71 262.99 L356.15 261.76 L357.60 260.54 L359.04 259.33 L360.48 258.12 L361.92 256.91 L363.36 255.70 L364.80 254.49 L366.24 253.28 L367.68 252.07 L369.12 250.86 L370.57 249.65 L372.01 248.43 L373.45 247.20 L374.89 245.97 L376.33 244.73 L377.77 243.48 L379.21 242.24 L380.65 240.98 L382.09 239.73 L383.54 238.47 L384.98 237.21 L386.42 235.95 L387.86 234.69 L389.30 233.43 L390.74 232.16 L392.18 230.90 L393.62 229.64 L395.06 228.37 L396.51 227.11 L397.95 225.85 L399.39 224.59 L400.83 223.33 L402.27 222.08 L403.71 220.83 L405.15 219.58 L406.59 218.33 L408.03 217.09 L409.48 215.85 L410.92 214.61 L412.36 213.38 L413.80 212.15 L415.24 210.91 L416.68 209.68 L418.12 208.45 L419.56 207.22 L421.00 205.99 L422.45 204.76 L423.89 203.52 L425.33 202.29 L426.77 201.05 L428.21 199.82 L429.65 198.58 L431.09 197.34 L432.53 196.09 L433.97 194.84 L435.42 193.59 L436.86 192.34 L438.30 191.08 L439.74 189.83 L441.18 188.57 L442.62 187.32 L444.06 186.06 L445.50 184.80 L446.94 183.53 L448.39 182.27 L449.83 181.01 L451.27 179.74 L452.71 178.47 L454.15 177.20 L455.59 175.93 L457.03 174.66 L458.47 173.39 L459.91 172.12 L461.36 170.84" stroke="#0000ff" stroke-dasharray="1.1 1.2"/>
<path d="M259.60 356.71 L261.04 356.71 L262.48 356.71 L263.92 356.27 L265.36 355.38 L266.81 354.38 L268.25 353.11 L269.69 351.59 L271.13 349.79 L272.57 347.87 L274.01 345.95 L275.45 344.08 L276.89 342.16 L278.33 340.21 L279.78 338.23 L281.22 336.25 L282.66 334.28 L284.10 332.33 L285.54 330.43 L286.98 328.58 L288.42 326.80 L289.86 325.09 L291.30 323.43 L292.75 321.80 L294.19 320.21 L295.63 318.64 L297.07 317.10 L298.51 315.58 L299.95 314.08 L301.39 312.60 L302.83 311.12 L304.27 309.65 L305.72 308.20 L307.16 306.77 L308.60 305.36 L310.04 303.96 L311.48 302.57 L312.92 301.20 L314.36 299.85 L315.80 298.50 L317.24 297.17 L318.69 295.84 L320.13 294.52 L321.57 293.21 L323.01 291.90 L324.45 290.61 L325.89 289.31 L327.33 288.03 L328.77 286.75 L330.21 285.48 L331.66 284.22 L333.10 282.96 L334.54 281.72 L335.98 280.48 L337.42 279.25 L338.86 278.02 L340.30 276.81 L341.74 275.61 L343.18 274.41 L344.63 273.22 L346.07 272.04 L347.51 270.87 L348.95 269.71 L350.39 268.56 L351.83 267.41 L353.27 266.28 L354.71 265.15 L356.15 264.03 L357.60 262.92 L359.04 261.81 L360.48 260.71 L361.92 259.62 L363.36 258.53 L364.80 257.45 L366.24 256.37 L367.68 255.30 L369.12 254.24 L370.57 253.18 L372.01 252.13 L373.45 251.08 L374.89 250.03 L376.33 249.00 L377.77 247.96 L379.21 246.94 L380.65 245.92 L382.09 244.91 L383.54 243.91 L384.98 242.91 L386.42 241.92 L387.86 240.94 L389.30 239.95 L390.74 238.97 L392.18 238.00 L393.62 237.02 L395.06 236.05 L396.51 235.08 L397.95 234.11 L399.39 233.14 L400.83 232.17 L402.27 231.20 L403.71 230.23 L405.15 229.26 L406.59 228.28 L408.03 227.30 L409.48 226.31 L410.92 225.32 L412.36 224.33 L413.80 223.33 L415.24 222.34 L416.68 221.35 L418.12 220.37 L419.56 219.38 L421.00 218.40 L422.45 217.43 L423.89 216.47 L425.33 215.51 L426.77 214.56 L428.21 213.62 L429.65 212.70 L431.09 211.78 L432.53 210.89 L433.97 210.00 L435.42 209.13 L436.86 208.27 L438.30 207.42 L439.74 206.58 L441.18 205.76 L442.62 204.96 L444.06 204.18 L445.50 203.42 L446.94 202.66 L448.39 201.87 L449.83 201.08 L451.27 200.30 L452.71 199.55 L454.15 198.85 L455.59 198.23 L457.03 197.71 L458.47 197.30 L459.91 196.98 L461.36 196.72" stroke="#000000" stroke-dasharray="6 1.6 0.8 1.8" stroke-width="1.58"/>
<path d="M259.60 356.71 L261.04 356.71 L262.48 356.71 L263.92 356.33 L265.36 355.56 L266.81 354.64 L268.25 353.47 L269.69 352.08 L271.13 350.44 L272.57 348.69 L274.01 346.95 L275.45 345.25 L276.89 343.49 L278.33 341.69 L279.78 339.88 L281.22 338.06 L282.66 336.26 L284.10 334.48 L285.54 332.76 L286.98 331.09 L288.42 329.51 L289.86 328.00 L291.30 326.55 L292.75 325.14 L294.19 323.77 L295.63 322.43 L297.07 321.11 L298.51 319.81 L299.95 318.53 L301.39 317.24 L302.83 315.96 L304.27 314.67 L305.72 313.39 L307.16 312.12 L308.60 310.86 L310.04 309.61 L311.48 308.37 L312.92 307.15 L314.36 305.94 L315.80 304.76 L317.24 303.59 L318.69 302.45 L320.13 301.32 L321.57 300.20 L323.01 299.09 L324.45 297.99 L325.89 296.91 L327.33 295.83 L328.77 294.76 L330.21 293.70 L331.66 292.65 L333.10 291.61 L334.54 290.57 L335.98 289.54 L337.42 288.52 L338.86 287.50 L340.30 286.49 L341.74 285.48 L343.18 284.47 L344.63 283.47 L346.07 282.46 L347.51 281.46 L348.95 280.47 L350.39 279.48 L351.83 278.49 L353.27 277.51 L354.71 276.53 L356.15 275.55 L357.60 274.59 L359.04 273.62 L360.48 272.66 L361.92 271.71 L363.36 270.76 L364.80 269.82 L366.24 268.88 L367.68 267.95 L369.12 267.02 L370.57 266.10 L372.01 265.18 L373.45 264.27 L374.89 263.37 L376.33 262.48 L377.77 261.58 L379.21 260.70 L380.65 259.81 L382.09 258.94 L383.54 258.06 L384.98 257.20 L386.42 256.33 L387.86 255.47 L389.30 254.62 L390.74 253.77 L392.18 252.93 L393.62 252.09 L395.06 251.26 L396.51 250.44 L397.95 249.62 L399.39 248.80 L400.83 247.99 L402.27 247.19 L403.71 246.39 L405.15 245.60 L406.59 244.81 L408.03 244.03 L409.48 243.25 L410.92 242.48 L412.36 241.71 L413.80 240.94 L415.24 240.18 L416.68 239.43 L418.12 238.68 L419.56 237.94 L421.00 237.20 L422.45 236.46 L423.89 235.73 L425.33 235.01 L426.77 234.29 L428.21 233.58 L429.65 232.87 L431.09 232.17 L432.53 231.48 L433.97 230.79 L435.42 230.10 L436.86 229.42 L438.30 228.75 L439.74 228.08 L441.18 227.41 L442.62 226.75 L444.06 226.09 L445.50 225.44 L446.94 224.79 L448.39 224.15 L449.83 223.51 L451.27 222.88 L452.71 222.25 L454.15 221.63 L455.59 221.01 L457.03 220.40 L458.47 219.79 L459.91 219.19 L461.36 218.59" stroke="#006400" stroke-dasharray="4.1 1.4"/>
</g>
<g font-family="Liberation Sans, sans-serif" font-size="12" fill="#000">
<text transform="translate(48.10 183.05) scale(0.98 1.04)" text-anchor="end">0.00</text>
<text transform="translate(48.10 160.20) scale(0.98 1.04)" text-anchor="end">0.05</text>
<text transform="translate(48.10 137.35) scale(0.98 1.04)" text-anchor="end">0.10</text>
<text transform="translate(48.10 114.50) scale(0.98 1.04)" text-anchor="end">0.15</text>
<text transform="translate(48.10 91.65) scale(0.98 1.04)" text-anchor="end">0.20</text>
<text transform="translate(48.10 68.80) scale(0.98 1.04)" text-anchor="end">0.25</text>
<text transform="translate(48.10 45.95) scale(0.98 1.04)" text-anchor="end">0.30</text>
<text transform="translate(48.10 23.10) scale(0.98 1.04)" text-anchor="end">0.35</text>
<text transform="translate(48.10 361.80) scale(0.98 1.04)" text-anchor="end">0.00</text>
<text transform="translate(48.10 338.95) scale(0.98 1.04)" text-anchor="end">0.05</text>
<text transform="translate(48.10 316.10) scale(0.98 1.04)" text-anchor="end">0.10</text>
<text transform="translate(48.10 293.25) scale(0.98 1.04)" text-anchor="end">0.15</text>
<text transform="translate(48.10 270.40) scale(0.98 1.04)" text-anchor="end">0.20</text>
<text transform="translate(48.10 247.55) scale(0.98 1.04)" text-anchor="end">0.25</text>
<text transform="translate(48.10 224.70) scale(0.98 1.04)" text-anchor="end">0.30</text>
<text transform="translate(48.10 201.85) scale(0.98 1.04)" text-anchor="end">0.35</text>
<text transform="translate(55.20 373.10) scale(1.0 1.04)" text-anchor="middle">0</text>
<text transform="translate(113.39 373.10) scale(1.0 1.04)" text-anchor="middle">1</text>
<text transform="translate(171.57 373.10) scale(1.0 1.04)" text-anchor="middle">2</text>
<text transform="translate(229.76 373.10) scale(1.0 1.04)" text-anchor="middle">3</text>
<text transform="translate(259.30 373.10) scale(1.0 1.04)" text-anchor="middle">0</text>
<text transform="translate(317.44 373.10) scale(1.0 1.04)" text-anchor="middle">1</text>
<text transform="translate(375.59 373.10) scale(1.0 1.04)" text-anchor="middle">2</text>
<text transform="translate(433.73 373.10) scale(1.0 1.04)" text-anchor="middle">3</text>
<text transform="translate(156.92 390.30) scale(1.02 1.04)" text-anchor="middle">p<tspan font-size="9.5" dy="3.3">T</tspan><tspan dy="-3.3"> [GeV]</tspan></text>
<text transform="translate(360.95 390.30) scale(1.02 1.04)" text-anchor="middle">p<tspan font-size="9.5" dy="3.3">T</tspan><tspan dy="-3.3"> [GeV]</tspan></text>
<text transform="translate(12.80 90.31) rotate(-90) scale(0.975 1.04)" text-anchor="middle">v<tspan font-size="9.3" dy="3.9">2</tspan><tspan dy="-3.9">(p</tspan><tspan font-size="9.3" dy="3.9">T</tspan><tspan dy="-3.9">)</tspan></text>
<text transform="translate(12.80 269.30) rotate(-90) scale(0.975 1.04)" text-anchor="middle">v<tspan font-size="9.3" dy="3.9">2</tspan><tspan dy="-3.9">(p</tspan><tspan font-size="9.3" dy="3.9">T</tspan><tspan dy="-3.9">)</tspan></text>
<text transform="translate(61.40 76.30) scale(1.0 1.04)">charged hadrons</text>
<text transform="translate(75.90 93.40) scale(1.0 1.04)">10-20 %</text>
<text transform="translate(157.50 172.10) scale(1.0 1.04)">LHC 5500 AGeV</text>
<text transform="translate(279.30 58.00) scale(1.0 1.04)">20-30 %</text>
<text transform="translate(75.90 236.80) scale(1.0 1.04)">30-40 %</text>
<text transform="translate(280.00 236.80) scale(1.0 1.04)">40-50 %</text>
<text transform="translate(62.70 16.30) scale(1.0 1.04)" font-size="10.3">LH-LQ</text>
<text transform="translate(62.70 28.15) scale(1.0 1.04)" font-size="10.3">LH-HQ</text>
<text transform="translate(62.70 40.00) scale(1.0 1.04)" font-size="10.3">HH-LQ</text>
<text transform="translate(62.70 51.85) scale(1.0 1.04)" font-size="10.3">HH-HQ</text>
</g>
<g fill="none" stroke-width="1.35">
<line x1="105.5" y1="12.30" x2="130.2" y2="12.30" stroke="#ff0000"/>
<line x1="105.5" y1="24.25" x2="130.2" y2="24.25" stroke="#0000ff" stroke-dasharray="1.1 1.2"/>
<line x1="105.5" y1="36.20" x2="130.2" y2="36.20" stroke="#000000" stroke-dasharray="6 1.6 0.8 1.8" stroke-width="1.55"/>
<line x1="105.5" y1="48.15" x2="130.2" y2="48.15" stroke="#006400" stroke-dasharray="4.1 1.4"/>
</g>
</svg>
</body></html>
